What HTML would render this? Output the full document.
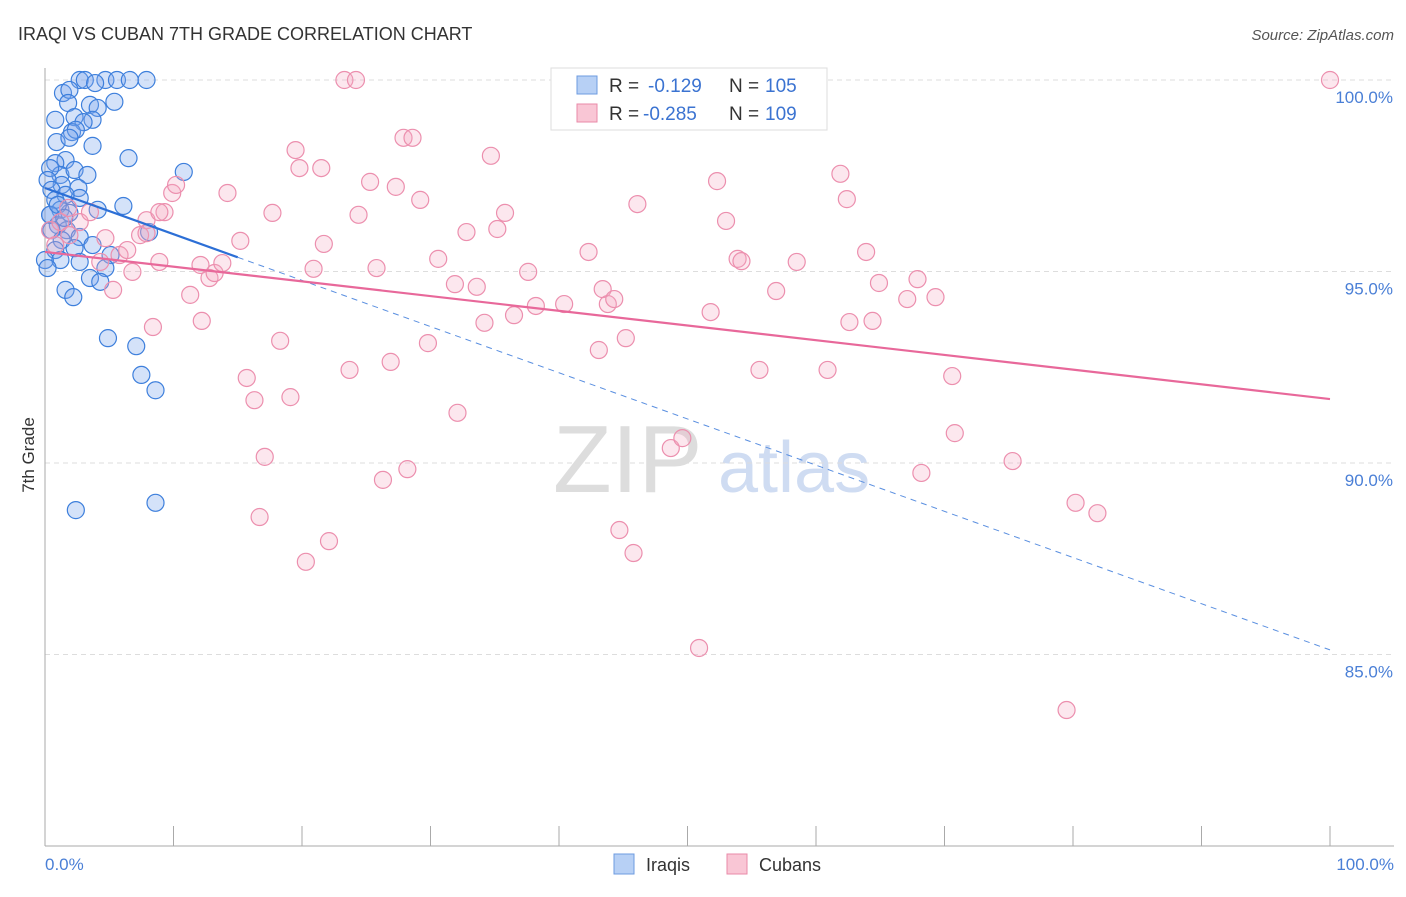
<!DOCTYPE html>
<html><head><meta charset="utf-8"><style>
body{margin:0;background:#fff;font-family:"Liberation Sans",sans-serif}
svg text{font-family:"Liberation Sans",sans-serif}
</style></head><body>
<svg id="chart" width="1406" height="892">
<text x="18" y="40" font-size="18" fill="#333">IRAQI VS CUBAN 7TH GRADE CORRELATION CHART</text>
<text x="1394" y="40" font-size="15" fill="#555" font-style="italic" text-anchor="end">Source: ZipAtlas.com</text>
<text x="553" y="492" font-size="96" fill="#ddd" font-family="Liberation Serif">ZIP</text>
<text x="718" y="492" font-size="72" fill="#cfdcf2">atlas</text>
<g id="grid"></g><g id="axes"></g><g id="pts"></g><g id="trend"></g>
<text transform="translate(34,455) rotate(-90)" font-size="17" fill="#333" text-anchor="middle">7th Grade</text>
<text x="45" y="870" font-size="17" fill="#4a7fd6">0.0%</text>
<text x="1394" y="870" font-size="17" fill="#4a7fd6" text-anchor="end">100.0%</text>
<g>
<rect x="551" y="68" width="276" height="62" fill="#fff" stroke="#ddd"/>
<rect x="577" y="76" width="20" height="18" fill="#b7d0f5" stroke="#6d9be0"/>
<text x="609" y="92" font-size="19" fill="#333">R =</text>
<text x="648" y="92" font-size="19" fill="#3b73d1">-0.129</text>
<text x="729" y="92" font-size="19" fill="#333">N =</text>
<text x="765" y="92" font-size="19" fill="#3b73d1">105</text>
<rect x="577" y="104" width="20" height="18" fill="#f9c6d5" stroke="#e98aa8"/>
<text x="609" y="120" font-size="19" fill="#333">R =</text>
<text x="643" y="120" font-size="19" fill="#3b73d1">-0.285</text>
<text x="729" y="120" font-size="19" fill="#333">N =</text>
<text x="765" y="120" font-size="19" fill="#3b73d1">109</text>
</g>
<g>
<rect x="614" y="854" width="20" height="20" fill="#b7d0f5" stroke="#6d9be0"/>
<text x="646" y="871" font-size="18" fill="#333">Iraqis</text>
<rect x="727" y="854" width="20" height="20" fill="#f9c6d5" stroke="#e98aa8"/>
<text x="759" y="871" font-size="18" fill="#333">Cubans</text>
</g>
</svg>
<script>
const yTicks=[100,95,90,85];
const yTickLabels=["100.0%","95.0%","90.0%","85.0%"];
const xTicks=[0,10,20,30,40,50,60,70,80,90,100];
const iraqiX=[2.7,3.1,4.7,5.6,6.6,7.9,3.9,1.4,1.9,1.8,3.5,5.4,4.1,0.8,2.3,3.7,3.0,2.1,2.4,0.9,3.7,1.9,6.5,1.6,0.8,1.2,0.4,2.3,3.3,1.3,0.2,0.5,2.6,2.7,1.6,0.8,6.1,4.1,1.2,1.9,0.4,1.0,1.7,8.1,0.5,1.3,2.7,0.8,2.3,3.7,5.1,0,1.2,2.7,4.7,3.5,4.3,0.2,1.6,2.2,4.9,7.1,7.5,8.6,2.4,8.6,10.8,0.4,1.0,1.5];
const iraqiY=[100,100,100,100,100,100,99.92,99.66,99.74,99.4,99.35,99.43,99.27,98.96,99.03,98.96,98.9,98.64,98.7,98.38,98.28,98.49,97.96,97.91,97.83,97.52,97.7,97.65,97.52,97.26,97.39,97.13,97.18,96.92,97.0,96.87,96.71,96.61,96.61,96.53,96.48,96.21,96.08,96.03,96.08,95.82,95.9,95.56,95.61,95.69,95.43,95.3,95.3,95.25,95.09,94.83,94.73,95.09,94.52,94.33,93.26,93.05,92.3,91.9,88.77,88.96,97.6,96.48,96.74,96.4];
const cubanX=[0.4,0.8,1.2,1.9,1.8,2.7,3.5,4.3,4.7,5.3,5.8,6.4,6.8,7.4,7.9,8.4,8.9,9.3,9.9,10.2,11.3,12.1,12.2,12.8,13.2,13.8,14.2,15.2,15.7,16.3,17.1,16.7,17.7,18.3,19.1,19.5,19.8,20.3,20.9,21.5,21.7,22.1,23.7,24.4,25.3,25.8,26.3,26.9,27.3,27.9,28.2,28.6,29.2,29.8,30.6,31.9,32.1,32.8,33.6,34.2,34.7,35.2,35.8,36.5,37.6,38.2,40.4,42.3,43.1,43.4,43.8,44.3,44.7,45.2,45.8,46.1,48.7,49.6,50.9,51.8,52.3,53.0,53.9,54.2,55.6,56.9,58.5,60.9,61.9,62.4,62.6,63.9,64.4,64.9,67.1,67.9,68.2,69.3,70.6,70.8,75.3,79.5,80.2,81.9,100,23.3,24.2,7.9,8.9];
const cubanY=[96.08,95.69,96.29,95.95,96.66,96.29,96.55,95.25,95.87,94.52,95.43,95.56,94.99,95.95,96.34,93.55,95.25,96.55,97.05,97.26,94.39,95.17,93.71,94.83,94.96,95.22,97.05,95.8,92.22,91.64,90.16,88.59,96.53,93.19,91.72,98.17,97.7,87.42,95.07,97.7,95.72,87.96,92.43,96.48,97.34,95.09,89.56,92.64,97.21,98.49,89.84,98.49,96.87,93.13,95.33,94.67,91.31,96.03,94.6,93.66,98.02,96.11,96.53,93.86,94.99,94.1,94.15,95.51,92.95,94.54,94.15,94.28,88.25,93.26,87.65,96.76,90.39,90.65,85.17,93.94,97.36,96.32,95.33,95.27,92.43,94.49,95.25,92.43,97.55,96.89,93.68,95.51,93.71,94.7,94.28,94.8,89.74,94.33,92.27,90.78,90.05,83.55,88.96,88.69,100,100,100,96.0,96.55];
const iraqiTrend=[97.18,85.12];
const cubanTrend=[95.51,91.67];
const NS="http://www.w3.org/2000/svg";
const sx=v=>45+v*12.85, sy=v=>80+(100-v)*38.3;
function mk(tag,attrs,parent){const e=document.createElementNS(NS,tag);for(const k in attrs)e.setAttribute(k,attrs[k]);document.getElementById(parent).appendChild(e);return e;}
yTicks.forEach((t,i)=>{
 const l=mk('line',{x1:45,x2:1394,y1:sy(t),y2:sy(t),stroke:'#ddd','stroke-dasharray':'5,4'},'grid');
 
 
 const tx=mk('text',{x:1393,y:sy(t)+23,'font-size':17,fill:'#4a7fd6','text-anchor':'end'},'grid');tx.textContent=yTickLabels[i];
 
 
});
const ax=mk('line',{x1:45,x2:45,y1:68,y2:846,stroke:'#aaa'},'axes');


const bx=mk('line',{x1:45,x2:1394,y1:846,y2:846,stroke:'#aaa'},'axes');


xTicks.forEach(t=>{const l=mk('line',{x1:sx(t),x2:sx(t),y1:826,y2:846,stroke:'#aaa'},'axes');
 
 });
iraqiX.forEach((x,i)=>{const c=mk('circle',{cx:sx(x),cy:sy(iraqiY[i]),r:8.5,fill:'rgba(120,165,235,0.32)',stroke:'#3d7fdc','stroke-width':1.2},'pts');
 
 });
cubanX.forEach((x,i)=>{const c=mk('circle',{cx:sx(x),cy:sy(cubanY[i]),r:8.5,fill:'rgba(245,170,195,0.28)',stroke:'#ec8fae','stroke-width':1.2},'pts');
 
 });
const bt=v=>iraqiTrend[0]+(iraqiTrend[1]-iraqiTrend[0])*v/100;
const l1=mk('line',{x1:sx(0),y1:sy(bt(0)),x2:sx(15),y2:sy(bt(15)),stroke:'#2c6fd6','stroke-width':2.2},'trend');


const l2=mk('line',{x1:sx(15),y1:sy(bt(15)),x2:sx(100),y2:sy(bt(100)),stroke:'#5a8fe0','stroke-width':1,'stroke-dasharray':'6,5'},'trend');


const l3=mk('line',{x1:sx(0),y1:sy(cubanTrend[0]),x2:sx(100),y2:sy(cubanTrend[1]),stroke:'#e8689a','stroke-width':2.2},'trend');


</script>
</body></html>
